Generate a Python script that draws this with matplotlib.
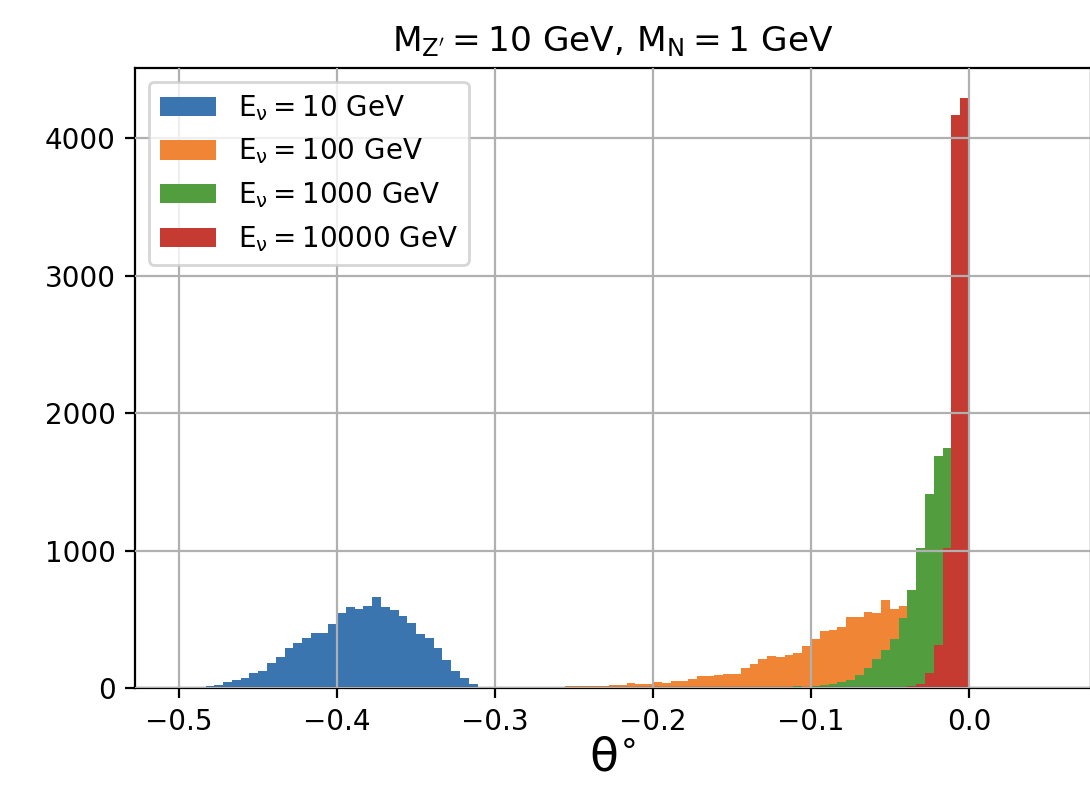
import numpy as np
import matplotlib
matplotlib.use("Agg")
import matplotlib.pyplot as plt

# angular distribution, 90 bins between -0.5 and 0.0 degrees
N_BINS = 90
THETA_MIN, THETA_MAX = -0.5, 0.0

# counts per bin, each list starts at the given bin index
blue_start = 0
blue_counts = [2, 12, 7, 19, 24, 46, 63, 77, 111, 123, 182, 231, 296, 330, 367,
               401, 401, 469, 546, 588, 578, 602, 661, 588, 571, 529, 474, 396,
               364, 296, 209, 129, 78, 32]

orange_start = 36
orange_counts = [2, 3, 5, 7, 9, 11, 9, 9, 14, 16, 16, 16, 16, 24, 26, 36, 31, 31,
                 43, 36, 53, 53, 68, 90, 87, 100, 104, 104, 146, 177, 211, 238,
                 226, 243, 257, 308, 355, 415, 425, 449, 515, 517, 554, 549, 640,
                 580, 598, 600, 500, 350, 150, 44]

green_start = 69
green_counts = [9, 15, 12, 19, 27, 32, 46, 63, 97, 146, 214, 277, 357, 512, 714,
                1020, 1410, 1690, 1745, 1200, 400]

red_start = 82
red_counts = [12, 20, 33, 110, 315, 1018, 4167, 4296]

colors = ["#3a75b0", "#ef8535", "#529e3e", "#c53a31"]

labels = [r"$\mathrm{E_{\nu} = 10\ GeV}$",
          r"$\mathrm{E_{\nu} = 100\ GeV}$",
          r"$\mathrm{E_{\nu} = 1000\ GeV}$",
          r"$\mathrm{E_{\nu} = 10000\ GeV}$"]


def full_counts(start, counts):
    arr = np.zeros(N_BINS)
    arr[start:start + len(counts)] = counts
    return arr


edges = np.linspace(THETA_MIN, THETA_MAX, N_BINS + 1)
centers = 0.5 * (edges[:-1] + edges[1:])

series = [
    full_counts(blue_start, blue_counts),
    full_counts(orange_start, orange_counts),
    full_counts(green_start, green_counts),
    full_counts(red_start, red_counts),
]

fig = plt.figure(figsize=(5.45, 3.925), dpi=200)
ax = fig.add_axes([135 / 1090, (785 - 688.3) / 785, (1090.5 - 135) / 1090, (688.3 - 68) / 785])

for counts, label, color in zip(series, labels, colors):
    ax.hist(centers, bins=edges, weights=counts, color=color, label=label)

ax.set_xlim(-0.528, 0.077)
ax.set_xticks([-0.5, -0.4, -0.3, -0.2, -0.1, 0.0])
ax.set_yticks([0, 1000, 2000, 3000, 4000])
ax.grid(True)
ax.set_axisbelow(False)
ax.legend(loc="upper left")
ax.set_title(r"$\mathrm{M_{Z'} = 10\ GeV,\,M_N = 1\ GeV}$", fontsize=12.4)
ax.set_xlabel(r"$\mathrm{\theta^{\circ}}$", fontsize=17, labelpad=0)

fig.savefig("out.png", dpi=200)
